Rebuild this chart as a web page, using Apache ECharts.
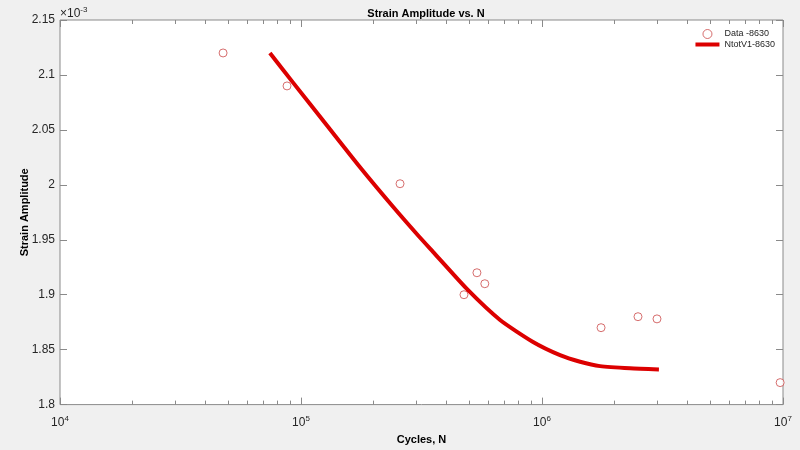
<!DOCTYPE html>
<html>
<head>
<meta charset="utf-8">
<script src="https://cdn.jsdelivr.net/npm/echarts@6/dist/echarts.min.js"></script>
<style>
  html, body { margin: 0; padding: 0; background: #f0f0f0; }
  #chart { width: 800px; height: 450px; }
</style>
</head>
<body>
<div id="chart"></div>
<script>
// strain values are in units of 1e-3 (axis shows x10^-3)
const dataCycles = [47500, 87500, 257600, 474600, 537000, 579000, 1758000, 2502000, 3000000, 9730000]
const dataStrain = [2.12, 2.09, 2.001, 1.90, 1.92, 1.91, 1.87, 1.88, 1.878, 1.82]

const fitCycles = [74300, 92700, 128200, 175800, 241000, 303000, 353000, 489000, 670000, 918000, 1188000, 1439000, 1742000, 2318000, 3056000]
const fitStrain = [2.120, 2.093, 2.054, 2.016, 1.980, 1.955, 1.939, 1.905, 1.877, 1.857, 1.845, 1.839, 1.835, 1.833, 1.832]

const decades = [4, 5, 6, 7]
const minorMults = [2, 3, 4, 5, 6, 7, 8, 9]

const minorTicks = []
decades.slice(0, -1).forEach((d) => {
  minorMults.forEach((m) => minorTicks.push(d + Math.log10(m)))
})

const axisGray = '#8a8a8a'
const textDark = '#262626'
const markerRed = '#cc4a4a'
const lineRed = '#dc0000'
const fontFam = 'Liberation Sans, Arial, sans-serif'

const chart = echarts.init(document.getElementById('chart'))

const logAxisBase = {
  type: 'log',
  logBase: 10,
  min: 1e4,
  max: 1e7,
  splitNumber: 3,
  splitLine: { show: false },
  axisLine: { show: false },
  axisTick: { inside: true, length: 7, lineStyle: { color: axisGray } },
}
const minorAxisBase = {
  type: 'value',
  min: 4,
  max: 7,
  splitLine: { show: false },
  axisLine: { show: false },
  axisLabel: { show: false },
  axisTick: { inside: true, length: 4, customValues: minorTicks, lineStyle: { color: axisGray } },
}
const yBase = {
  type: 'value',
  min: 1.8,
  max: 2.15,
  interval: 0.05,
  splitLine: { show: false },
  axisLine: { show: false },
  axisTick: { inside: true, length: 7, lineStyle: { color: axisGray } },
}

// thin line legend icon (invisible slivers keep the box 24x9)
const lineIcon = 'path://M0,0L24,0L24,0.01L0,0.01Z M0,2.5L24,2.5L24,6.5L0,6.5Z M0,8.99L24,8.99L24,9L0,9Z'

chart.setOption({
  backgroundColor: '#f0f0f0',
  animation: false,
  textStyle: { fontFamily: fontFam },
  title: {
    text: 'Strain Amplitude vs. N',
    left: 421,
    top: 3,
    textAlign: 'center',
    textStyle: { fontSize: 11, fontWeight: 'bold', color: '#000', fontFamily: fontFam },
  },
  grid: {
    left: 60, right: 17, top: 20, bottom: 41,
    show: true, backgroundColor: '#fff', borderColor: axisGray, borderWidth: 1,
  },
  legend: {
    right: 20,
    top: 24,
    orient: 'vertical',
    itemWidth: 24,
    itemHeight: 9,
    itemGap: 1,
    textStyle: { fontSize: 9, color: textDark, fontFamily: fontFam },
    data: [
      { name: 'Data -8630', icon: 'circle', itemStyle: { color: '#fff', borderColor: markerRed, borderWidth: 1 } },
      { name: 'NtotV1-8630', icon: lineIcon },
    ],
  },
  graphic: [
    {
      type: 'text',
      left: 60,
      top: 6,
      style: {
        text: '{a|×10}{s|-3}',
        rich: {
          a: { fontSize: 12, fill: textDark, fontFamily: fontFam },
          s: { fontSize: 8, fill: textDark, fontFamily: fontFam, padding: [0, 0, 8, 0] },
        },
      },
    },
  ],
  xAxis: [
    Object.assign({}, logAxisBase, {
      position: 'bottom',
      name: 'Cycles, N',
      nameLocation: 'middle',
      nameGap: 27,
      nameTextStyle: { fontSize: 11, fontWeight: 'bold', color: '#000' },
      axisLabel: {
        margin: 10,
        formatter: (v) => '{b|10}{e|' + Math.round(Math.log10(v)) + '}',
        rich: {
          b: { fontSize: 12, color: textDark },
          e: { fontSize: 8, color: textDark, padding: [0, 0, 9, 0] },
        },
      },
    }),
    Object.assign({}, logAxisBase, { position: 'top', axisLabel: { show: false } }),
    Object.assign({}, minorAxisBase, { position: 'bottom' }),
    Object.assign({}, minorAxisBase, { position: 'top' }),
  ],
  yAxis: [
    Object.assign({}, yBase, {
      position: 'left',
      name: 'Strain Amplitude',
      nameLocation: 'middle',
      nameGap: 30,
      nameMoveOverlap: false,
      nameTextStyle: { fontSize: 11, fontWeight: 'bold', color: '#000' },
      axisLabel: { fontSize: 12, color: textDark, margin: 5 },
    }),
    Object.assign({}, yBase, { position: 'right', axisLabel: { show: false } }),
  ],
  series: [
    {
      name: 'Data -8630',
      type: 'scatter',
      xAxisIndex: 0,
      yAxisIndex: 0,
      symbol: 'circle',
      symbolSize: 8,
      itemStyle: { color: '#fff', borderColor: markerRed, borderWidth: 1 },
      data: dataCycles.map((n, i) => [n, dataStrain[i]]),
    },
    {
      name: 'NtotV1-8630',
      type: 'line',
      xAxisIndex: 0,
      yAxisIndex: 0,
      showSymbol: false,
      symbol: 'none',
      smooth: 0.2,
      lineStyle: { color: lineRed, width: 4, join: 'round' },
      itemStyle: { color: lineRed },
      data: fitCycles.map((n, i) => [n, fitStrain[i]]),
    },
  ],
})
</script>
</body>
</html>
